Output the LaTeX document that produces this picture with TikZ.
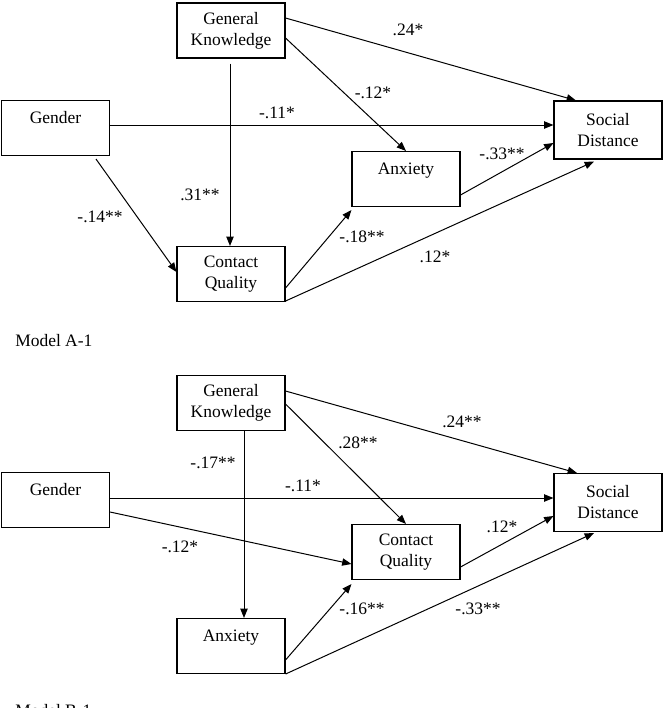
\documentclass[tikz,border=0pt]{standalone}
\usepackage{fontspec}
\setmainfont{Liberation Serif}
\usetikzlibrary{arrows.meta,calc}
\tikzset{
  varbox/.style={draw, line width=0.8pt, inner sep=0pt, minimum width=81pt, minimum height=41.25pt, align=center, font=\fontsize{13.1}{15.75}\selectfont},
  tallbox/.style={varbox, minimum height=43.5pt},
  conn/.style={line width=0.75pt, -{Triangle[length=7pt,width=5.5pt]}},
  lbl/.style={inner sep=0pt, font=\fontsize{13.1}{15.75}\selectfont},
  modelcaption/.style={inner sep=0pt, anchor=base west, font=\fontsize{13.1}{15.75}\selectfont}
}
\begin{document}
\begin{tikzpicture}[x=0.75pt,y=-0.75pt]
\useasboundingbox (0,0) rectangle (670,708);
% ---------- Model A-1 ----------
\node[varbox] (GKa) at (231,30.5) {General\\Knowledge};
\node[varbox] (GEa) at (55.5,128) {Gender\\[0pt]~};
\node[varbox] (CQa) at (231,274) {Contact\\Quality};
\node[varbox] (ANa) at (406,179) {Anxiety\\[0pt]~};
\node[tallbox] (SDa) at (608,130) {Social\\Distance};

\draw[conn] ($(GKa.east)+(0,-12.5)$) -- ($(SDa.north)+(-32,0)$);
\draw[conn] ($(GKa.east)+(0,7.5)$) -- (ANa.north);
\draw[conn] ($(GEa.east)+(0,-3)$) -- ($(SDa.west)+(0,-5)$);
\draw[conn] ($(GKa.south)+(-1,5)$) -- ($(CQa.north)+(-1,0)$);
\draw[conn] ($(GEa.south)+(40.5,3)$) -- ($(CQa.west)+(0,-2)$);
\draw[conn] ($(CQa.east)+(0,14)$) -- ($(ANa.south west)+(0,3)$);
\draw[conn] ($(CQa.south east)+(0,-1)$) -- ($(SDa.south)+(-14,2)$);
\draw[conn] ($(ANa.east)+(0,16)$) -- ($(SDa.west)+(0,13)$);

\node[lbl] (l1) at (408,30) {.24*};
\node[lbl] (l2) at (373,93) {-.12*};
\node[lbl] (l3) at (277,113) {-.11*};
\node[lbl] (l4) at (200,195) {.31**};
\node[lbl] (l5) at (100,217) {-.14**};
\node[lbl] (l6) at (362,237) {-.18**};
\node[lbl] (l7) at (435,257) {.12*};
\node[lbl] (l8) at (502,154) {-.33**};
\node[modelcaption] (capA) at (15,346) {Model A-1};

% ---------- Model B-1 ----------
\node[varbox] (GKb) at (231,403) {General\\Knowledge};
\node[varbox] (GEb) at (55.5,500) {Gender\\[0pt]~};
\node[varbox] (ANb) at (231,646) {Anxiety\\[0pt]~};
\node[varbox] (CQb) at (406,552) {Contact\\Quality};
\node[tallbox] (SDb) at (608,502.5) {Social\\Distance};

\draw[conn] ($(GKb.east)+(0,-12)$) -- ($(SDb.north)+(-31,0)$);
\draw[conn] ($(GKb.east)+(0,1)$) -- (CQb.north);
\draw[conn] ($(GEb.east)+(0,-2)$) -- ($(SDb.west)+(0,-4.5)$);
\draw[conn] ($(GKb.south)+(13,0)$) -- ($(ANb.north)+(13,0)$);
\draw[conn] ($(GEb.east)+(0,12)$) -- ($(CQb.west)+(0,12)$);
\draw[conn] ($(ANb.east)+(0,14)$) -- ($(CQb.south west)+(0,4)$);
\draw[conn] (ANb.south east) -- ($(SDb.south)+(-14,1)$);
\draw[conn] ($(CQb.east)+(0,15)$) -- ($(SDb.west)+(0,13.5)$);

\node[lbl] (m1) at (462,422) {.24**};
\node[lbl] (m2) at (358,443) {.28**};
\node[lbl] (m3) at (303,486) {-.11*};
\node[lbl] (m4) at (213,463) {-.17**};
\node[lbl] (m5) at (180,547) {-.12*};
\node[lbl] (m6) at (362,609) {-.16**};
\node[lbl] (m7) at (478,609) {-.33**};
\node[lbl] (m8) at (502,527) {.12*};
\node[modelcaption] (capB) at (15,716) {Model B-1};
\end{tikzpicture}
\end{document}
